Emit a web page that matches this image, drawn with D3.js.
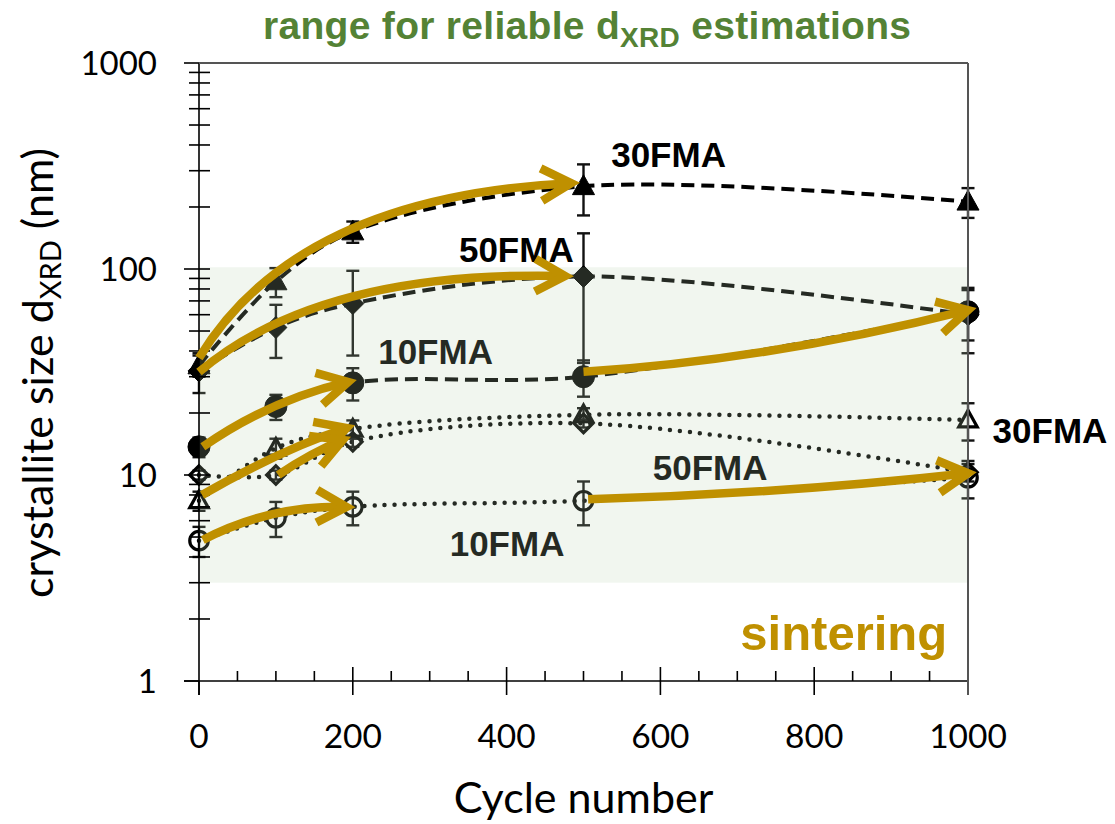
<!DOCTYPE html>
<html><head><meta charset="utf-8">
<script src="https://cdn.jsdelivr.net/npm/d3@7"></script>
<style>body{margin:0;background:#fff}</style>
</head><body><svg id="c" width="1115" height="824"></svg>
<script>
// ---------- data ----------
const cycles = [0, 100, 200, 500, 1000];
const fma30Filled = [34, 87, 152, 252, 212];
const fma30FilledErr = [4, 14, 18, 70, 35];
const fma50Filled = [32, 52, 68, 92, 60];
const fma50FilledErr = [7, 15, 30, 57, 21];
const fma10Filled = [13.7, 21.5, 28, 30, 62];
const fma10FilledErr = [1.5, 3, 5, 6, 17];
const fma30Open = [7.5, 13.5, 16.7, 19.6, 18.5];
const fma30OpenErr = [0.8, 1.5, 1.7, 1.5, 3.8];
const fma50Open = [10, 10, 14.5, 17.8, 10.3];
const fma50OpenErr = [0.5, 0.5, 0.8, 0.8, 1.0];
const fma10Open = [4.8, 6.2, 7.0, 7.5, 9.7];
const fma10OpenErr = [0.8, 1.2, 1.3, 1.8, 2.0];

const xTicks = [0, 200, 400, 600, 800, 1000];
const yTicks = [1, 10, 100, 1000];
const bandRange = [3, 102];

// annotation arrows (cycle, size): start, bend control, end
const arrowFrom = [[0, 37], [0, 31.6], [5, 13.7], [500, 31.7], [4, 8.0], [103, 10], [5, 4.84], [506, 7.62]];
const arrowVia  = [[128, 225], [157, 99], [92, 23.1], [742, 36.2], [105, 13.2], [147, 12.9], [92, 7.15], [755, 8.09]];
const arrowTo   = [[484, 261], [476, 92.5], [194, 28.3], [1000, 63.2], [192, 16.9], [187, 14.8], [192, 7.0], [1000, 10.2]];

const labelText = ["30FMA", "50FMA", "10FMA", "30FMA", "50FMA", "10FMA"];
const labelAt = [[536, 313], [338, 108], [233, 34.6], [1032, 14.3], [590, 9.46], [326, 4.04]];
const sinteringAt = [973, 1.41];

// ---------- setup ----------
const svg = d3.select("#c");
const x = d3.scaleLinear().domain([0, 1000]).range([199, 968]);
const y = d3.scaleLog().domain([1, 1000]).range([681, 63]);
const GOLD = "#BF9000", GREEN = "#548235";

const series = [
  {v: fma30Filled, e: fma30FilledErr, shape: "tri", filled: true},
  {v: fma50Filled, e: fma50FilledErr, shape: "dia", filled: true},
  {v: fma10Filled, e: fma10FilledErr, shape: "cir", filled: true},
  {v: fma30Open, e: fma30OpenErr, shape: "tri", filled: false},
  {v: fma50Open, e: fma50OpenErr, shape: "dia", filled: false},
  {v: fma10Open, e: fma10OpenErr, shape: "cir", filled: false},
];

function shapePath(shape, filled) {
  const s = filled ? 1.05 : 0.88;
  if (shape === "cir") { const r = 10.5 * s; return `M${-r},0A${r},${r} 0 1,0 ${r},0A${r},${r} 0 1,0 ${-r},0Z`; }
  if (shape === "tri") { const h = 11 * s, w = 10.5 * s; return `M0,${-h}L${w},${h*0.72}L${-w},${h*0.72}Z`; }
  const d = 10.5 * s; return `M0,${-d}L${d},0L0,${d}L${-d},0Z`;
}

const plot = svg.append("g");
const line = d3.line().x(d => x(d[0])).y(d => y(d[1])).curve(d3.curveCatmullRom.alpha(0.5));

// lines
series.forEach(s => {
  plot.append("path")
    .attr("d", line(cycles.map((c, i) => [c, s.v[i]])))
    .attr("fill", "none").attr("stroke", "#000")
    .attr("stroke-width", s.filled ? 4 : 4.5)
    .attr("stroke-linecap", s.filled ? "butt" : "round")
    .attr("stroke-dasharray", s.filled ? "13,7" : "0,10");
});
// error bars
series.forEach(s => {
  cycles.forEach((c, i) => {
    const g = plot.append("g").attr("stroke", "#111").attr("stroke-width", 2.4);
    const cx = x(c), y1 = y(s.v[i] + s.e[i]), y2 = y(Math.max(s.v[i] - s.e[i], 1.01));
    g.append("line").attr("x1", cx).attr("x2", cx).attr("y1", y1).attr("y2", y2);
    g.append("line").attr("x1", cx - 6.5).attr("x2", cx + 6.5).attr("y1", y1).attr("y2", y1);
    g.append("line").attr("x1", cx - 6.5).attr("x2", cx + 6.5).attr("y1", y2).attr("y2", y2);
  });
});
// markers
series.forEach(s => {
  cycles.forEach((c, i) => {
    plot.append("path").attr("d", shapePath(s.shape, s.filled))
      .attr("transform", `translate(${x(c)},${y(s.v[i])})`)
      .attr("fill", s.filled ? "#000" : "none")
      .attr("stroke", "#000").attr("stroke-width", s.filled ? 1 : 3.2);
  });
});
// series labels
labelText.forEach((t, i) => {
  svg.append("text").attr("x", x(labelAt[i][0])).attr("y", y(labelAt[i][1]))
    .attr("font-family", "Arial, 'Liberation Sans', sans-serif").attr("font-weight", "bold")
    .attr("font-size", 35).attr("fill", "#000").text(t);
});

// band overlay
svg.append("rect").attr("x", x(0)).attr("width", x(1000) - x(0))
  .attr("y", y(bandRange[1])).attr("height", y(bandRange[0]) - y(bandRange[1]))
  .attr("fill", "rgb(186,211,176)").attr("fill-opacity", 0.2);

// ---------- axes ----------
const ax = svg.append("g").attr("stroke", "#000").attr("stroke-width", 1.6);
svg.append("line").attr("x1", x(0)).attr("x2", x(1000)).attr("y1", y(1000)).attr("y2", y(1000)).attr("stroke", "#555").attr("stroke-width", 2);
svg.append("line").attr("x1", x(1000)).attr("x2", x(1000)).attr("y1", y(1000)).attr("y2", y(1) + 14).attr("stroke", "#555").attr("stroke-width", 2);
ax.append("line").attr("x1", x(0)).attr("x2", x(0)).attr("y1", y(1000)).attr("y2", y(1) + 14);
yTicks.forEach(v => ax.append("line").attr("x1", x(0) - 15).attr("x2", x(0) + (v === 1 ? 0 : 11)).attr("y1", y(v)).attr("y2", y(v)));
for (let d = 1; d < 1000; d *= 10) for (let k = 2; k <= 9; k++) {
  ax.append("line").attr("x1", x(0) - 10).attr("x2", x(0) + 11).attr("y1", y(k * d)).attr("y2", y(k * d));
}
ax.append("line").attr("x1", x(0) - 15).attr("x2", x(1000)).attr("y1", y(1)).attr("y2", y(1));
xTicks.forEach(v => ax.append("line").attr("x1", x(v)).attr("x2", x(v)).attr("y1", y(1) - (v === 0 ? 0 : 14)).attr("y2", y(1) + 14));
d3.range(50, 1000, 50).filter(v => v % 200 !== 0).forEach(v =>
  ax.append("line").attr("x1", x(v)).attr("x2", x(v)).attr("y1", y(1) - 10).attr("y2", y(1)));

const tickFont = "Lato, 'Open Sans', sans-serif";
yTicks.forEach(v => svg.append("text").attr("x", 157).attr("y", y(v) + 12).attr("text-anchor", "end")
  .attr("font-family", tickFont).attr("font-size", 33).attr("fill", "#000").text(v));
xTicks.forEach(v => svg.append("text").attr("x", x(v)).attr("y", 748).attr("text-anchor", "middle")
  .attr("font-family", tickFont).attr("font-size", 33.5).attr("fill", "#000").text(v));

svg.append("text").attr("x", (x(0) + x(1000)) / 2).attr("y", 813).attr("text-anchor", "middle")
  .attr("font-family", tickFont).attr("font-size", 43).attr("fill", "#000").text("Cycle number");

const yl = svg.append("text").attr("transform", "translate(53,373) rotate(-90)").attr("text-anchor", "middle")
  .attr("font-family", tickFont).attr("font-size", 43).attr("fill", "#000");
yl.append("tspan").text("crystallite size d");
yl.append("tspan").attr("font-size", 29).attr("dy", 8).text("XRD");
yl.append("tspan").attr("dy", -8).text(" (nm)");

// ---------- arrows ----------
const arrows = svg.append("g").attr("fill", "none").attr("stroke", GOLD).attr("stroke-width", 8.5);
arrowFrom.forEach((f, i) => {
  const p0 = [x(f[0]), y(f[1])], p1 = [x(arrowVia[i][0]), y(arrowVia[i][1])], p2 = [x(arrowTo[i][0]), y(arrowTo[i][1])];
  arrows.append("path").attr("d", `M${p0}Q${p1} ${p2}`);
  const a = Math.atan2(p2[1] - p1[1], p2[0] - p1[0]), L = 34, h = 0.5;
  const a1 = [p2[0] - L * Math.cos(a - h), p2[1] - L * Math.sin(a - h)];
  const a2 = [p2[0] - L * Math.cos(a + h), p2[1] - L * Math.sin(a + h)];
  arrows.append("path").attr("d", `M${a1}L${p2}L${a2}`).attr("stroke-linejoin", "miter");
});

// sintering
svg.append("text").attr("x", x(sinteringAt[0])).attr("y", y(sinteringAt[1])).attr("text-anchor", "end")
  .attr("font-family", "Arial, 'Liberation Sans', sans-serif").attr("font-weight", "bold")
  .attr("font-size", 49).attr("fill", GOLD).text("sintering");

// title
const tt = svg.append("text").attr("x", 263).attr("y", 39)
  .attr("font-family", "Arial, 'Liberation Sans', sans-serif").attr("font-weight", "bold")
  .attr("font-size", 39).attr("letter-spacing", 0.3).attr("fill", GREEN);
tt.append("tspan").text("range for reliable d");
tt.append("tspan").attr("font-size", 28).attr("dy", 8).text("XRD");
tt.append("tspan").attr("dy", -8).text(" estimations");
</script></body></html>
